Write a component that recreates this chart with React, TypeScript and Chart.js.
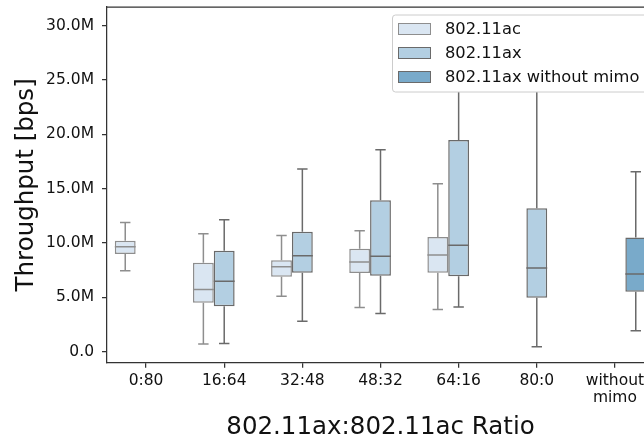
import React, { useEffect, useRef } from "react";
import { Chart, registerables } from "chart.js";

Chart.register(...registerables);

const categories: (string | string[])[] = ["0:80", "16:64", "32:48", "48:32", "64:16", "80:0", ["without", "mimo"]];
const seriesNames = ["802.11ac", "802.11ax", "802.11ax without mimo"];
const yTicks = [0, 5, 10, 15, 20, 25, 30];

// values in Mbps (M)
const acLow = [7.45, 0.71, 5.1, 4.08, 3.9, null, null];
const acQ1 = [8.99, 4.5, 6.9, 7.24, 7.27, null, null];
const acMed = [9.66, 5.74, 7.82, 8.25, 8.9, null, null];
const acQ3 = [10.2, 8.19, 8.41, 9.48, 10.55, null, null];
const acHigh = [11.9, 10.86, 10.7, 11.13, 15.46, null, null];

const axLow = [null, 0.77, 2.82, 3.53, 4.11, 0.46, null];
const axQ1 = [null, 4.18, 7.27, 6.99, 6.94, 4.97, null];
const axMed = [null, 6.48, 8.83, 8.78, 9.79, 7.7, null];
const axQ3 = [null, 9.29, 11.04, 13.93, 19.48, 13.19, null];
const axHigh = [null, 12.14, 16.8, 18.58, 30.2, 25.0, null];

const nmLow = [null, null, null, null, null, null, 1.93];
const nmQ1 = [null, null, null, null, null, null, 5.52];
const nmMed = [null, null, null, null, null, null, 7.15];
const nmQ3 = [null, null, null, null, null, null, 10.52];
const nmHigh = [null, null, null, null, null, null, 16.56];

const fills = ["#dae6f2", "#b3cfe2", "#79aaca"];
const lines = ["#8e8e8e", "#6a6a6a", "#6a6a6a"];

const stats = [
  { low: acLow, med: acMed, high: acHigh, q1: acQ1, q3: acQ3 },
  { low: axLow, med: axMed, high: axHigh, q1: axQ1, q3: axQ3 },
  { low: nmLow, med: nmMed, high: nmHigh, q1: nmQ1, q3: nmQ3 },
];

const FONT = "'DejaVu Sans', sans-serif";

const boxPlugin = {
  id: "boxWhiskers",
  afterDatasetsDraw(chart: any) {
    const ctx = chart.ctx;
    const ys = chart.scales.y;
    const area = chart.chartArea;
    ctx.save();
    ctx.beginPath();
    ctx.rect(area.left, area.top, area.right - area.left, area.bottom - area.top);
    ctx.clip();
    chart.data.datasets.forEach((_ds: any, di: number) => {
      const meta = chart.getDatasetMeta(di);
      const st = stats[di];
      meta.data.forEach((bar: any, i: number) => {
        if (st.med[i] == null) return;
        const { x, width } = bar.getProps(["x", "width"], true);
        const yq1 = ys.getPixelForValue(st.q1[i]);
        const yq3 = ys.getPixelForValue(st.q3[i]);
        const ylo = ys.getPixelForValue(st.low[i]);
        const yhi = ys.getPixelForValue(st.high[i]);
        const ymed = ys.getPixelForValue(st.med[i]);
        ctx.strokeStyle = lines[di];
        ctx.lineWidth = 1.5;
        ctx.lineCap = "butt";
        const cap = width / 4;
        ctx.beginPath();
        ctx.moveTo(x, yq1);
        ctx.lineTo(x, ylo);
        ctx.moveTo(x - cap, ylo);
        ctx.lineTo(x + cap, ylo);
        ctx.moveTo(x, yq3);
        ctx.lineTo(x, yhi);
        ctx.moveTo(x - cap, yhi);
        ctx.lineTo(x + cap, yhi);
        ctx.stroke();
        ctx.beginPath();
        ctx.moveTo(x - width / 2, ymed);
        ctx.lineTo(x + width / 2, ymed);
        ctx.stroke();
      });
    });
    ctx.restore();
  },
  afterDraw(chart: any) {
    const ctx = chart.ctx;
    const area = chart.chartArea;
    ctx.save();
    // top & right spines
    ctx.strokeStyle = "#333333";
    ctx.lineWidth = 1.25;
    ctx.beginPath();
    ctx.moveTo(area.left, area.top);
    ctx.lineTo(area.right, area.top);
    ctx.lineTo(area.right, area.bottom);
    ctx.stroke();
    // legend
    const lx = 392.5, ly = 15, lw = 262, lh = 77, r = 3;
    ctx.beginPath();
    ctx.moveTo(lx + r, ly);
    ctx.lineTo(lx + lw - r, ly);
    ctx.arcTo(lx + lw, ly, lx + lw, ly + r, r);
    ctx.lineTo(lx + lw, ly + lh - r);
    ctx.arcTo(lx + lw, ly + lh, lx + lw - r, ly + lh, r);
    ctx.lineTo(lx + r, ly + lh);
    ctx.arcTo(lx, ly + lh, lx, ly + lh - r, r);
    ctx.lineTo(lx, ly + r);
    ctx.arcTo(lx, ly, lx + r, ly, r);
    ctx.closePath();
    ctx.fillStyle = "rgba(255,255,255,1)";
    ctx.fill();
    ctx.strokeStyle = "#cccccc";
    ctx.lineWidth = 1;
    ctx.stroke();
    ctx.font = `16.3px ${FONT}`;
    ctx.textBaseline = "middle";
    ctx.textAlign = "left";
    chart.data.datasets.forEach((ds: any, di: number) => {
      const cy = 29 + di * 24;
      ctx.fillStyle = fills[di];
      ctx.fillRect(398.5, cy - 5.5, 32, 11);
      ctx.strokeStyle = lines[di];
      ctx.lineWidth = 1;
      ctx.strokeRect(398.5, cy - 5.5, 32, 11);
      ctx.fillStyle = "#111111";
      ctx.fillText(ds.label, 445, cy + 0.5);
    });
    ctx.restore();
  },
};

export default function App() {
  const ref = useRef<HTMLCanvasElement | null>(null);
  useEffect(() => {
    if (!ref.current) return;
    const buildData = (q1: (number | null)[], q3: (number | null)[]) =>
      categories.map((_, i) => (q1[i] == null || q3[i] == null ? null : [q1[i] as number, q3[i] as number]));
    const chart = new Chart(ref.current, {
      type: "bar",
      data: {
        labels: categories as any,
        datasets: stats.map((s, di) => ({
          label: seriesNames[di],
          data: buildData(s.q1, s.q3) as any,
          backgroundColor: fills[di],
          borderColor: lines[di],
          borderWidth: 1.5,
          borderSkipped: false,
          categoryPercentage: 0.8,
          barPercentage: 1.0,
        })),
      },
      options: {
        responsive: false,
        animation: false,
        maintainAspectRatio: false,
        layout: { padding: { top: 7, right: 46, left: 0, bottom: 0 } },
        plugins: { legend: { display: false }, tooltip: { enabled: false } },
        font: { family: FONT } as any,
        scales: {
          x: {
            type: "category",
            offset: true,
            grid: { display: true, drawOnChartArea: false, drawTicks: true, tickLength: 5, color: "#333333", lineWidth: 1.25, offset: false },
            border: { display: true, color: "#333333", width: 1.25 },
            ticks: { color: "#111111", font: { family: FONT, size: 15.5, lineHeight: 1.1 }, padding: 4.5, maxRotation: 0, autoSkip: false },
            title: { display: true, text: "802.11ax:802.11ac Ratio", color: "#111111", font: { family: FONT, size: 24.5, lineHeight: 1 }, padding: { top: 0, bottom: -3 } },
            afterFit(s: any) { s.height = 74.3; s.paddingLeft = 0; s.paddingRight = 0; },
          },
          y: {
            type: "linear",
            min: -1.0,
            max: 31.7,
            afterBuildTicks(s: any) { s.ticks = yTicks.map((v) => ({ value: v })); },
            grid: { display: true, drawOnChartArea: false, drawTicks: true, tickLength: 5, color: "#333333", lineWidth: 1.25 },
            border: { display: true, color: "#333333", width: 1.25 },
            ticks: {
              color: "#111111",
              font: { family: FONT, size: 15.5 },
              padding: 8,
              callback: (v: any) => (Number(v) === 0 ? "0.0" : Number(v).toFixed(1) + "M"),
            },
            title: { display: true, text: "Throughput [bps]", color: "#111111", font: { family: FONT, size: 24.5, lineHeight: 1.2 }, padding: { top: 12, bottom: 0 } },
            afterFit(s: any) { s.width = 107; s.paddingTop = 0; s.paddingBottom = 0; },
          },
        },
      },
      plugins: [boxPlugin],
    });
    return () => chart.destroy();
  }, []);
  return (
    <div style={{ position: "fixed", left: 0, top: 0, width: 644, height: 437, overflow: "hidden", background: "#fff" }}>
      <canvas ref={ref} width={700} height={437} style={{ width: 700, height: 437, display: "block" }} />
    </div>
  );
}
